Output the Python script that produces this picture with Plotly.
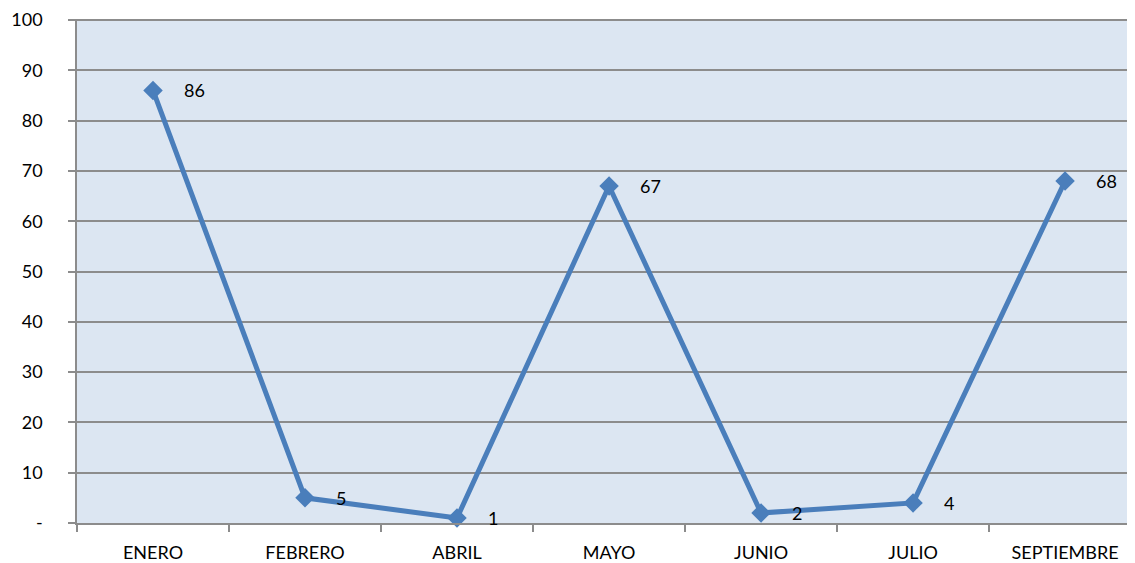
import plotly.graph_objects as go

months = ["ENERO", "FEBRERO", "ABRIL", "MAYO", "JUNIO", "JULIO", "SEPTIEMBRE"]
values = [86, 5, 1, 67, 2, 4, 68]
y_tickvals = [0, 10, 20, 30, 40, 50, 60, 70, 80, 90, 100]
y_ticktext = ["-", "10", "20", "30", "40", "50", "60", "70", "80", "90", "100"]

FONT = "Lato, 'Open Sans', sans-serif"
GRID = "#8C8C8C"

fig = go.Figure()
fig.add_trace(go.Scatter(
    x=months, y=values, mode="lines+markers",
    line=dict(color="#4A7EBB", width=5),
    marker=dict(symbol="diamond", size=15, color="#4A7EBB"),
    cliponaxis=False, showlegend=False, hoverinfo="skip",
))

for m, v in zip(months, values):
    fig.add_annotation(x=m, y=v, text=str(v), showarrow=False,
                       xanchor="left", yanchor="middle", xshift=29,
                       font=dict(family=FONT, size=18, color="#000000"))

fig.update_layout(
    width=1127, height=555,
    margin=dict(l=69, r=0, t=8, b=32, pad=0),
    paper_bgcolor="#FFFFFF",
    plot_bgcolor="#DCE6F2",
    font=dict(family=FONT, color="#000000"),
)
fig.update_xaxes(
    type="category", categoryorder="array", categoryarray=months,
    range=[-0.5, 6.46],
    showgrid=False, zeroline=False,
    showline=True, linecolor=GRID, linewidth=1.5,
    ticks="outside", tickson="boundaries", ticklen=7, tickcolor=GRID, tickwidth=1.5,
    tickfont=dict(family=FONT, size=18, color="#000000"),
    ticklabelstandoff=13,
)
fig.update_yaxes(
    range=[0, 100.2], tickvals=y_tickvals, ticktext=y_ticktext,
    showgrid=True, gridcolor=GRID, gridwidth=1.5,
    zeroline=False,
    showline=True, linecolor=GRID, linewidth=1.5,
    ticks="outside", ticklen=7, tickcolor=GRID, tickwidth=1.5,
    tickfont=dict(family=FONT, size=18, color="#000000"),
    ticklabelstandoff=22, ticklabeloverflow="allow",
)

fig.write_html("out.html")
